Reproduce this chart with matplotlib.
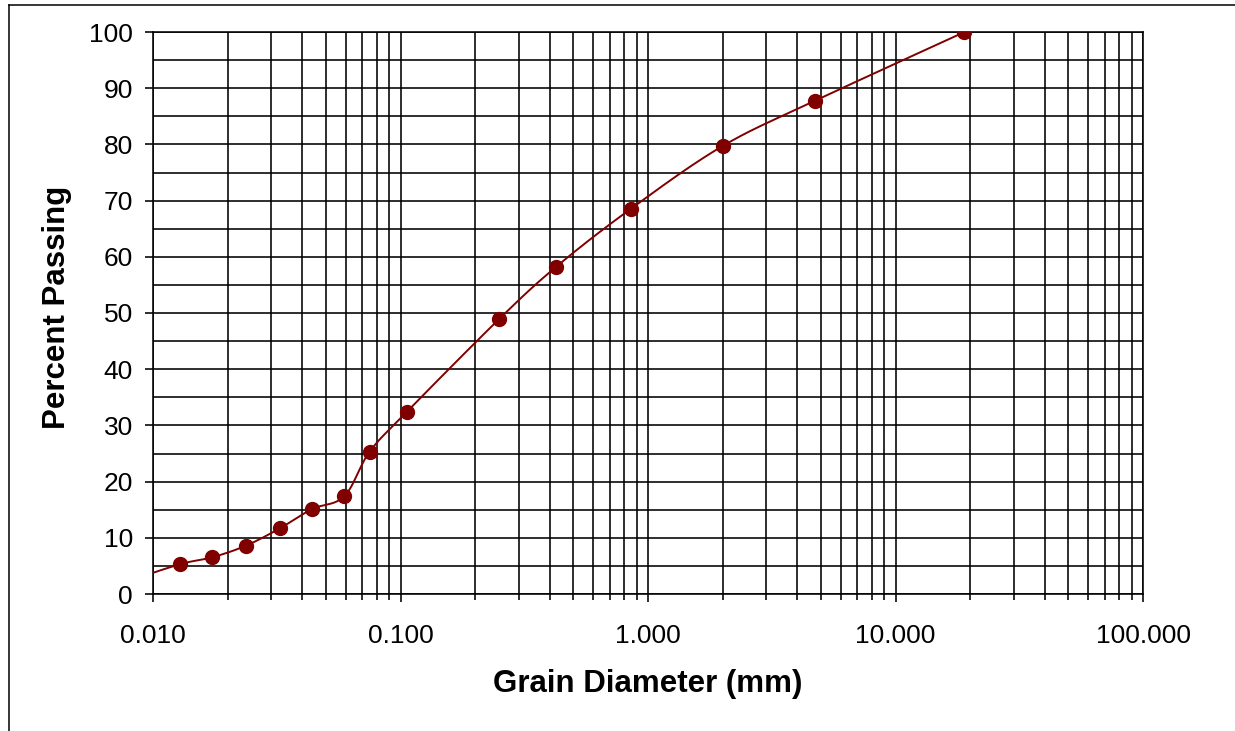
import numpy as np
import matplotlib
matplotlib.use("Agg")
import matplotlib.pyplot as plt
from matplotlib.ticker import LogLocator, MultipleLocator, FuncFormatter, NullFormatter
from matplotlib.lines import Line2D

# ---- data ----
grain_mm = [0.0077, 0.01285, 0.01727, 0.02375, 0.0326, 0.0438, 0.0593,
            0.075, 0.106, 0.250, 0.425, 0.850, 2.00, 4.75, 19.0]
percent_passing = [2.1, 5.3, 6.5, 8.6, 11.7, 15.1, 17.4,
                   25.3, 32.4, 48.9, 58.2, 68.5, 79.7, 87.8, 100.0]
x_tick_values = [0.01, 0.1, 1, 10, 100]
y_tick_values = [0, 10, 20, 30, 40, 50, 60, 70, 80, 90, 100]
x_label = "Grain Diameter (mm)"
y_label = "Percent Passing"

plt.rcParams['font.family'] = ['Liberation Sans', 'DejaVu Sans']

W, H = 1235, 731
fig = plt.figure(figsize=(W / 100, H / 100), dpi=100)
ax = fig.add_axes([153 / W, 1 - 594 / H, 990 / W, 562 / H])

# smoothed (Catmull-Rom / Bezier) line in log-x space, like Excel's smoothed scatter
lx = np.log10(np.array(grain_mm))
yy = np.array(percent_passing)
P = np.column_stack([lx, yy])
n = len(P)
curve = []
t = np.linspace(0, 1, 40)[:, None]
for i in range(n - 1):
    p0 = P[i - 1] if i > 0 else P[i]
    p1 = P[i]
    p2 = P[i + 1]
    p3 = P[i + 2] if i + 2 < n else P[i + 1]
    c1 = p1 + (p2 - p0) / 6.0
    c2 = p2 - (p3 - p1) / 6.0
    seg = ((1 - t) ** 3) * p1 + 3 * ((1 - t) ** 2) * t * c1 + 3 * (1 - t) * t ** 2 * c2 + t ** 3 * p2
    curve.append(seg if i == 0 else seg[1:])
curve = np.vstack(curve)

color = '#800000'
ax.plot(10 ** curve[:, 0], curve[:, 1], color=color, lw=1.4, zorder=3)
ax.plot(grain_mm, percent_passing, linestyle='none', marker='o', ms=10,
        color=color, mec=color, zorder=4)

ax.set_xscale('log')
ax.set_xlim(0.01, 100)
ax.set_ylim(0, 100)

ax.xaxis.set_major_locator(LogLocator(base=10, numticks=10))
ax.xaxis.set_minor_locator(LogLocator(base=10, subs=np.arange(2, 10), numticks=20))
ax.xaxis.set_minor_formatter(NullFormatter())
ax.set_xticks(x_tick_values)
ax.xaxis.set_major_formatter(FuncFormatter(lambda v, p: f"{v:.3f}"))
ax.set_yticks(y_tick_values)
ax.yaxis.set_minor_locator(MultipleLocator(5))

ax.grid(True, which='both', color='black', lw=1.15, zorder=1)
ax.set_axisbelow(True)
for s in ax.spines.values():
    s.set_color('black')
    s.set_linewidth(1.15)

ax.tick_params(axis='x', which='major', direction='out', length=6, width=1.15,
               labelsize=19, pad=15.5, colors='black')
ax.tick_params(axis='x', which='minor', direction='out', length=4.5, width=1.15)
ax.tick_params(axis='y', which='major', direction='out', length=6, width=1.15,
               labelsize=19, pad=8.5)
ax.tick_params(axis='y', which='minor', length=0)

fig.text(648 / W, 1 - 692 / H, x_label, ha='center', va='baseline',
         fontsize=22.5, fontweight='bold')
fig.text(57.5 / W, 1 - 307.5 / H, y_label, ha='center', va='center',
         rotation=90, fontsize=22.5, fontweight='bold')

# outer chart-area frame (only left and top edges visible in the reference)
fig.add_artist(Line2D([8.5 / W, 8.5 / W], [0, 1 - 4.5 / H], color='black', lw=1.1,
                      transform=fig.transFigure))
fig.add_artist(Line2D([8.5 / W, 1], [1 - 4.5 / H, 1 - 4.5 / H], color='black', lw=1.1,
                      transform=fig.transFigure))

fig.savefig('out.png', dpi=100)
